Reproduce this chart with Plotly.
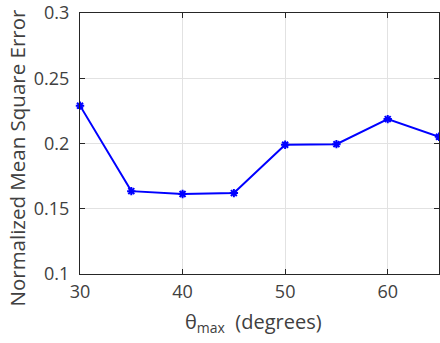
import plotly.graph_objects as go

theta_max = [30, 35, 40, 45, 50, 55, 60, 65]
nmse = [0.229, 0.1635, 0.1613, 0.1620, 0.1990, 0.1995, 0.2187, 0.2052]

x_ticks = [30, 40, 50, 60]
y_ticks = [0.1, 0.15, 0.2, 0.25, 0.3]
y_tick_labels = ["0.1", "0.15", "0.2", "0.25", "0.3"]

FONT = "Open Sans"
TXT = "#404040"

fig = go.Figure()
fig.add_trace(go.Scatter(
    x=theta_max, y=nmse, mode="lines+markers",
    line=dict(color="#0000ff", width=2),
    marker=dict(symbol="asterisk-open", size=7, color="#0000ff",
                line=dict(color="#0000ff", width=2)),
    cliponaxis=False, showlegend=False,
))

axis_common = dict(
    showline=True, linecolor="#262626", linewidth=1, mirror="ticks",
    ticks="inside", ticklen=5, tickcolor="#262626",
    showgrid=True, gridcolor="#e2e2e2", gridwidth=1,
    zeroline=False, ticklabeloverflow="allow",
    tickfont=dict(family=FONT, size=18, color=TXT),
)

fig.update_layout(
    width=440, height=343,
    margin=dict(l=80, r=0, t=10, b=69),
    paper_bgcolor="white", plot_bgcolor="white",
    xaxis=dict(range=[30, 65], tickvals=x_ticks, **axis_common),
    yaxis=dict(range=[0.1, 0.3], tickvals=y_ticks, ticktext=y_tick_labels,
               **axis_common),
    annotations=[
        dict(text="θ<sub>max</sub>  (degrees)", xref="paper", yref="paper",
             x=0.483, y=-0.185, xanchor="center", yanchor="middle",
             showarrow=False, font=dict(family=FONT, size=20, color=TXT)),
        dict(text="Normalized Mean Square Error", xref="paper", yref="paper",
             x=-0.175, y=0.447, textangle=-90, xanchor="center", yanchor="middle",
             showarrow=False, font=dict(family=FONT, size=20.5, color=TXT)),
    ],
)
fig.update_yaxes(ticklabelstandoff=6)
fig.update_xaxes(ticklabelstandoff=1)

fig.write_html("out.html", config={"displayModeBar": False},
               post_script="document.body.style.margin='0';document.body.style.overflow='hidden';")
